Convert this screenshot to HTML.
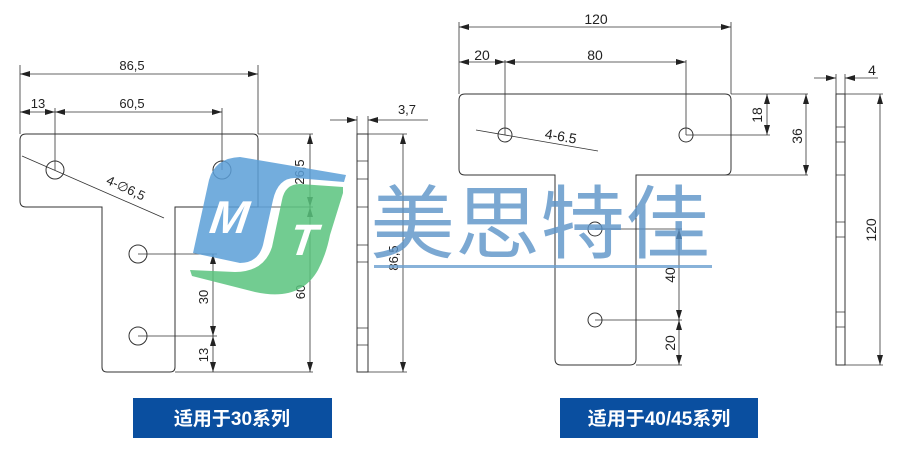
<!DOCTYPE html>
<html><head><meta charset="utf-8"><style>
html,body{margin:0;padding:0;background:#fff;}
svg{display:block;}
text{font-family:"Liberation Sans","DejaVu Sans",sans-serif;}
.t{font-size:13px;fill:#222;}
.b{font-family:"Liberation Sans","Noto Sans CJK SC",sans-serif;font-weight:bold;font-size:19px;fill:#fff;}
</style></head><body>
<svg width="900" height="450" viewBox="0 0 900 450" xmlns="http://www.w3.org/2000/svg">
<defs>
<marker id="a" viewBox="0 0 10 6" refX="10" refY="3" markerWidth="10" markerHeight="6" orient="auto-start-reverse" markerUnits="userSpaceOnUse"><path d="M0,0 L10,3 L0,6 Z" fill="#222"/></marker>
</defs>
<g fill="none" stroke="#333" stroke-width="1">
<!-- left plate -->
<path d="M26,134 H253 Q258,134 258,139 V207 H175 V367 Q175,372 170,372 H107 Q102,372 102,367 V207 H26 Q20,207 20,201 V140 Q20,134 26,134 Z"/>
<circle cx="55" cy="170" r="9"/><circle cx="222" cy="170" r="9"/>
<circle cx="138" cy="254" r="9"/><circle cx="138" cy="336" r="9"/>
<path d="M20,65 V134 M258,65 V134 M55,108 V170 M222,108 V170" stroke-width="0.8"/>
<path d="M258,134 H313 M175,207 H313 M175,372 H313 M138,254 H217 M138,336 H217" stroke-width="0.8"/>
<line x1="20" y1="74" x2="258" y2="74" marker-start="url(#a)" marker-end="url(#a)" stroke-width="0.8"/>
<line x1="20" y1="112" x2="55" y2="112" marker-start="url(#a)" marker-end="url(#a)" stroke-width="0.8"/>
<line x1="55" y1="112" x2="222" y2="112" marker-start="url(#a)" marker-end="url(#a)" stroke-width="0.8"/>
<line x1="22" y1="156" x2="164" y2="218" stroke-width="0.8"/>
<line x1="310" y1="134" x2="310" y2="207" marker-start="url(#a)" marker-end="url(#a)" stroke-width="0.8"/>
<line x1="310" y1="207" x2="310" y2="372" marker-start="url(#a)" marker-end="url(#a)" stroke-width="0.8"/>
<line x1="213" y1="254" x2="213" y2="336" marker-start="url(#a)" marker-end="url(#a)" stroke-width="0.8"/>
<line x1="213" y1="336" x2="213" y2="372" marker-start="url(#a)" marker-end="url(#a)" stroke-width="0.8"/>
<!-- left side view -->
<rect x="357" y="134" width="11" height="238"/>
<path d="M357,161 H368 M357,179 H368 M357,207 H368 M357,245 H368 M357,262 H368 M357,328 H368 M357,345 H368" stroke-width="0.8"/>
<path d="M357,116 V134 M368,116 V134 M368,134 H407 M368,372 H407" stroke-width="0.8"/>
<line x1="330" y1="120" x2="357" y2="120" marker-end="url(#a)" stroke-width="0.8"/>
<line x1="428" y1="120" x2="368" y2="120" marker-end="url(#a)" stroke-width="0.8"/>
<line x1="403" y1="134" x2="403" y2="372" marker-start="url(#a)" marker-end="url(#a)" stroke-width="0.8"/>

<!-- right plate -->
<path d="M465,94 H725 Q731,94 731,100 V169 Q731,175 725,175 H636 V359 Q636,365 630,365 H561 Q555,365 555,359 V175 H465 Q459,175 459,169 V100 Q459,94 465,94 Z"/>
<circle cx="505" cy="135" r="7"/><circle cx="686" cy="135" r="7"/>
<circle cx="595" cy="229" r="7"/><circle cx="595" cy="320" r="7"/>
<path d="M459,22 V94 M731,22 V94 M505,60 V135 M686,60 V135" stroke-width="0.8"/>
<path d="M731,94 H808 M686,135 H770 M720,175 H808 M595,229 H682 M595,320 H682 M636,365 H682" stroke-width="0.8"/>
<line x1="459" y1="27" x2="731" y2="27" marker-start="url(#a)" marker-end="url(#a)" stroke-width="0.8"/>
<line x1="459" y1="62" x2="505" y2="62" marker-start="url(#a)" marker-end="url(#a)" stroke-width="0.8"/>
<line x1="505" y1="62" x2="686" y2="62" marker-start="url(#a)" marker-end="url(#a)" stroke-width="0.8"/>
<line x1="476" y1="130" x2="598" y2="151" stroke-width="0.8"/>
<line x1="767" y1="94" x2="767" y2="135" marker-start="url(#a)" marker-end="url(#a)" stroke-width="0.8"/>
<line x1="806" y1="94" x2="806" y2="175" marker-start="url(#a)" marker-end="url(#a)" stroke-width="0.8"/>
<line x1="679" y1="229" x2="679" y2="320" marker-start="url(#a)" marker-end="url(#a)" stroke-width="0.8"/>
<line x1="679" y1="320" x2="679" y2="365" marker-start="url(#a)" marker-end="url(#a)" stroke-width="0.8"/>
<!-- right side view -->
<rect x="836" y="94" width="9" height="271"/>
<path d="M836,127 H845 M836,142 H845 M836,175 H845 M836,222 H845 M836,237 H845 M836,312 H845 M836,327 H845" stroke-width="0.8"/>
<path d="M836,74 V94 M845,74 V94 M845,94 H883 M845,365 H883" stroke-width="0.8"/>
<line x1="814" y1="78" x2="836" y2="78" marker-end="url(#a)" stroke-width="0.8"/>
<line x1="878" y1="78" x2="845" y2="78" marker-end="url(#a)" stroke-width="0.8"/>
<line x1="880" y1="94" x2="880" y2="365" marker-start="url(#a)" marker-end="url(#a)" stroke-width="0.8"/>
</g>
<!-- dimension text -->
<text class="t" x="132" y="70" text-anchor="middle">86,5</text>
<text class="t" x="38" y="108" text-anchor="middle">13</text>
<text class="t" x="132" y="108" text-anchor="middle">60,5</text>
<text class="t" transform="translate(124,192) rotate(25)" text-anchor="middle">4-∅6,5</text>
<text class="t" transform="translate(304,172) rotate(-90)" text-anchor="middle">26,5</text>
<text class="t" transform="translate(305,292) rotate(-90)" text-anchor="middle">60</text>
<text class="t" transform="translate(208,297) rotate(-90)" text-anchor="middle">30</text>
<text class="t" transform="translate(208,355) rotate(-90)" text-anchor="middle">13</text>
<text class="t" x="407" y="114" text-anchor="middle">3,7</text>
<text class="t" transform="translate(398,258) rotate(-90)" text-anchor="middle">86,5</text>
<text class="t" style="font-size:14px" x="596" y="24" text-anchor="middle">120</text>
<text class="t" style="font-size:14px" x="482" y="60" text-anchor="middle">20</text>
<text class="t" style="font-size:14px" x="595" y="60" text-anchor="middle">80</text>
<text class="t" style="font-size:14px" transform="translate(560,141) rotate(10)" text-anchor="middle">4-6.5</text>
<text class="t" style="font-size:14px" transform="translate(762,115) rotate(-90)" text-anchor="middle">18</text>
<text class="t" style="font-size:14px" transform="translate(802,136) rotate(-90)" text-anchor="middle">36</text>
<text class="t" style="font-size:14px" transform="translate(675,275) rotate(-90)" text-anchor="middle">40</text>
<text class="t" style="font-size:14px" transform="translate(675,343) rotate(-90)" text-anchor="middle">20</text>
<text class="t" style="font-size:14px" x="872" y="75" text-anchor="middle">4</text>
<text class="t" style="font-size:14px" transform="translate(876,230) rotate(-90)" text-anchor="middle">120</text>

<!-- watermark logo -->
<g opacity="0.85">
<path d="M193,253 L209,180 Q215,158 240,157 L346,175 L344,182 L295,178 Q278,178 273,200 L263,245 Q258,263 240,263 Z" fill="#5b9fd8"/>
<path d="M190,270 L192,276 L255,292 Q300,302 318,270 Q326,255 330,235 L343,193 L343,187 L300,184 Q285,184 282,200 L272,247 Q264,272 235,272 Z" fill="#5ac47e"/>
</g>
<text x="211" y="233" style="font-size:46px;font-weight:bold;font-style:italic;fill:#fff" transform="skewX(-8) translate(30,0)">M</text>
<text x="288" y="255" style="font-size:44px;font-weight:bold;font-style:italic;fill:#fff" transform="skewX(-8) translate(36,0)">T</text>
<text x="370" y="252" textLength="340" lengthAdjust="spacingAndGlyphs" style="font-family:'Liberation Sans','Noto Sans CJK SC',sans-serif;font-size:80px;fill:#5b93c8;opacity:0.8">美思特佳</text>
<rect x="374" y="265" width="338" height="3" fill="#6a9fd0" opacity="0.8"/>

<!-- labels -->
<rect x="133" y="398" width="199" height="40" fill="#0a4fa0"/>
<text class="b" x="232" y="425" text-anchor="middle">适用于30系列</text>
<rect x="560" y="398" width="198" height="40" fill="#0a4fa0"/>
<text class="b" x="659" y="425" text-anchor="middle">适用于40/45系列</text>
</svg>
</body></html>
